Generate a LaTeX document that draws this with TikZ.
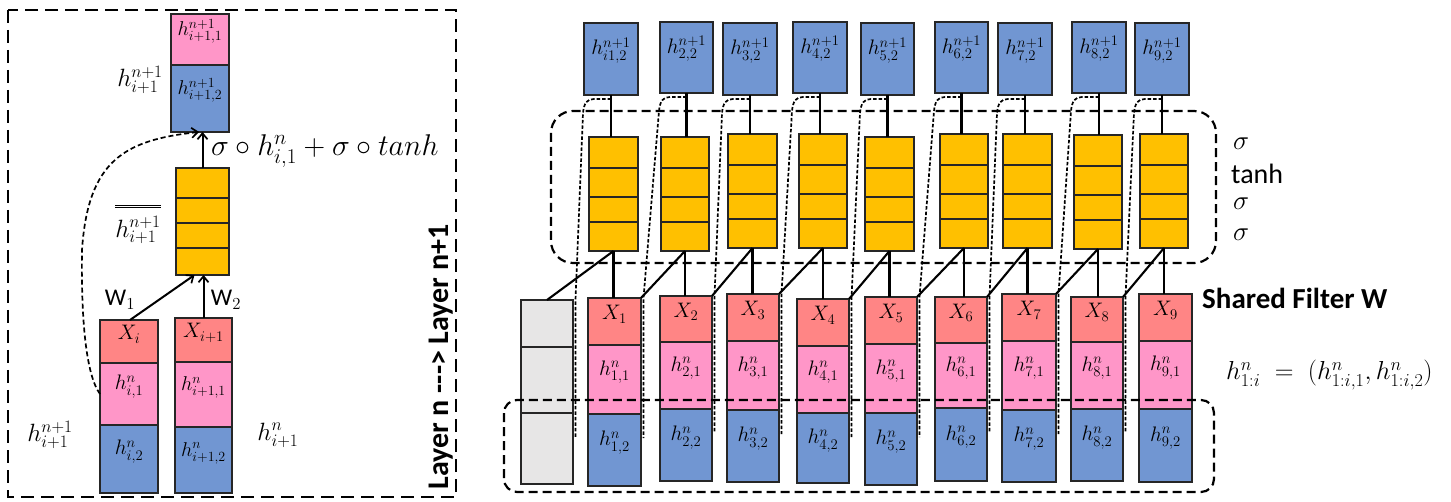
\RequirePackage{fix-cm}
\documentclass[tikz,border=0pt]{standalone}
\usepackage{fontspec}
\setmainfont{Carlito}
\usetikzlibrary{arrows.meta,calc,fit}
\definecolor{bluec}{HTML}{7196D2}
\definecolor{pinkc}{HTML}{FF96C8}
\definecolor{redc}{HTML}{FF8585}
\definecolor{yelc}{HTML}{FFC000}
\definecolor{grayc}{HTML}{E7E6E6}
\begin{document}
\begin{tikzpicture}[x=1pt,y=-1pt,
  cell/.style={draw=black!85, line width=2.6pt, inner sep=0pt, outer sep=0pt, font=\fontsize{21}{25}\selectfont},
  conn/.style={line width=2.1pt},
  arr/.style={line width=2pt,-{Straight Barb[length=6pt,width=10pt,line width=1.7pt]}},
  dconn/.style={line width=1.7pt, dash pattern=on 3.5pt off 2pt},
  grp/.style={line width=2.2pt, dash pattern=on 9pt off 5pt},
  bigdash/.style={line width=2.4pt, dash pattern=on 13pt off 7pt},
  mlab/.style={inner sep=0pt, font=\fontsize{25}{30}\selectfont},
  slab/.style={inner sep=0pt, font=\fontsize{27}{30}\selectfont},
]
\useasboundingbox (0,0) rectangle (1451,502);

% ---------------- left panel ----------------
\draw[bigdash] (8,10) rectangle (456,497);
\node[cell, font=\fontsize{20}{24}\selectfont, fill=pinkc, fit={(171,14)(229,65)}] (lt1) {$h^{n+1}_{i+1,1}$};
\node[cell, font=\fontsize{20}{24}\selectfont, fill=bluec, fit={(171,65)(229,132)}] (lt2) {$h^{n+1}_{i+1,2}$};
\node[cell, fill=yelc, fit={(176,168)(229,198)}] (ly1) {};
\node[cell, fill=yelc, fit={(176,198)(229,223)}] (ly2) {};
\node[cell, fill=yelc, fit={(176,223)(229,248)}] (ly3) {};
\node[cell, fill=yelc, fit={(176,248)(229,275)}] (ly4) {};
\node[cell, fill=redc, fit={(100,320)(158,363)}] (lr1) {$X_i$};
\node[cell, fill=pinkc, fit={(100,363)(158,425)}] (lp1) {$h^n_{i,1}$};
\node[cell, fill=bluec, fit={(100,425)(158,493)}] (lb1) {$h^n_{i,2}$};
\node[cell, fill=redc, fit={(175,318)(232,362)}] (lr2) {$X_{i+1}$};
\node[cell, font=\fontsize{20}{24}\selectfont, fill=pinkc, fit={(175,362)(232,427)}] (lp2) {$h^n_{i+1,1}$};
\node[cell, font=\fontsize{20}{24}\selectfont, fill=bluec, fit={(175,427)(232,493)}] (lb2) {$h^n_{i+1,2}$};

\draw[arr] ($(lr1.north)+(1,0)$) -- ($(ly4.south)+(-8,0)$);
\draw[arr] (lr2.north) -- (lr2.north |- ly4.south);
\draw[arr] (ly1.north) -- (ly1.north |- lt2.south);
\draw[dconn, line width=1.7pt, dash pattern=on 5pt off 3pt, -{Straight Barb[length=6pt,width=10pt,line width=1.7pt]}]
  (lp1.west) .. controls (86,375) and (81,320) .. (82,250)
  .. controls (88,160) and (125,140) .. ($(lt2.south)+(-1,0)$);

\node[mlab] (lhtop) at (140,80) {$h^{n+1}_{i+1}$};
\node[inner sep=0pt, anchor=west, font=\fontsize{30}{34}\selectfont] (leq) at (211,151) {$\sigma\circ h^n_{i,1}+\sigma\circ tanh$};
\node[mlab] (lhbar) at (138,224) {$\overline{\overline{\rule{0pt}{1.15em}h^{n+1}_{i+1}}}$};
\node[inner sep=0pt, font=\fontsize{24}{28}\selectfont] (w1) at (120,300) {W$_1$};
\node[inner sep=0pt, font=\fontsize{24}{28}\selectfont] (w2) at (226,300) {W$_2$};
\node[mlab] (lhl) at (50,435) {$h^{n+1}_{i+1}$};
\node[mlab] (lhr) at (278,435) {$h^{n}_{i+1}$};
\node[rotate=90, inner sep=0pt, font=\bfseries\fontsize{30}{36}\selectfont] (layer) at (441,357) {Layer n -{}-{}-{}> Layer n+1};

% ---------------- right panel ----------------
\foreach \k/\lab/\xa/\xb/\ya/\yb in {1/{i1}/584/638/23/95, 2/2/660/713/22/93, 3/3/723/777/23/95, 4/4/793/847/22/93, 5/5/861/914/23/95, 6/6/935/988/22/93, 7/7/998/1052/23/95, 8/8/1072/1126/22/93, 9/9/1135/1189/23/95}{
  \node[cell, fill=bluec, fit={(\xa,\ya)(\xb,\yb)}] (t\k) {$h^{n+1}_{\lab,2}$};
}
\foreach \k/\xa/\xb/\ya in {1/589/638/137, 2/661/709/137, 3/728/777/134, 4/799/847/134, 5/865/914/137, 6/940/988/134, 7/1003/1052/134, 8/1074/1122/135, 9/1140/1188/134}{
  \node[cell, fill=yelc, fit={(\xa,\ya)(\xb,\ya+31)}] (yA\k) {};
  \node[cell, fill=yelc, fit={(\xa,\ya+31)(\xb,\ya+60)}] (yB\k) {};
  \node[cell, fill=yelc, fit={(\xa,\ya+60)(\xb,\ya+85)}] (yC\k) {};
  \node[cell, fill=yelc, fit={(\xa,\ya+85)(\xb,\ya+114)}] (yD\k) {};
}
\node[cell, fill=grayc, fit={(521,300)(573,347)}] (r0) {};
\node[cell, fill=grayc, fit={(521,347)(573,413)}] (p0) {};
\node[cell, fill=grayc, fit={(521,413)(573,484)}] (b0) {};
\foreach \k/\xa/\xb/\ya/\yb/\yc/\yd in {1/588/641/298/345/414/486, 2/660/712/296/342/409/481, 3/727/779/294/341/410/482, 4/797/849/299/346/413/483, 5/865/917/297/344/413/485, 6/935/987/297/343/408/481, 7/1002/1056/294/341/410/482, 8/1071/1123/297/342/409/481, 9/1139/1192/294/341/409/482}{
  \node[cell, fill=redc, fit={(\xa,\ya)(\xb,\yb)}] (r\k) {$X_{\k}$};
  \node[cell, fill=pinkc, fit={(\xa,\yb)(\xb,\yc)}] (p\k) {$h^{n}_{\k,1}$};
  \node[cell, fill=bluec, fit={(\xa,\yc)(\xb,\yd)}] (b\k) {$h^{n}_{\k,2}$};
}
\foreach \k in {1,...,9}{
  \pgfmathtruncatemacro{\prev}{\k-1}
  \draw[conn] (t\k.south) -- (t\k.south |- yA\k.north);
  \draw[conn] (yD\k.south) -- (yD\k.south |- r\k.north);
  \ifnum\k=1
    \draw[conn] (yD\k.south) -- (r0.north);
  \else
    \draw[conn] (yD\k.south) -- (r\prev.north east);
  \fi
  \draw[dconn] ($(t\k.south)+(0,4)$) -- ($(t\k.south west)+(10,4)$)
    .. controls ($(t\k.south west)+(3,4)$) and ($(t\k.south west)+(0,8)$) .. ($(t\k.south west)+(-1,18)$)
    -- ($(r\prev.north east)+(2.5,0)$) -- ($(b\prev.north east)+(2.5,24)$);
}
\draw[grp, rounded corners=22pt] (551,111) rectangle (1216,263);
\draw[grp, rounded corners=13pt] (504,400) rectangle (1214,492);

\node[slab, anchor=west] (s1) at (1233,144) {$\sigma$};
\node[inner sep=0pt, anchor=west, font=\fontsize{28}{32}\selectfont] (tanh) at (1231,174) {tanh};
\node[slab, anchor=west] (s2) at (1233,204) {$\sigma$};
\node[slab, anchor=west] (s3) at (1233,235) {$\sigma$};
\node[inner sep=0pt, anchor=west, font=\bfseries\fontsize{29}{34}\selectfont] (shared) at (1202,298) {Shared Filter W};
\node[inner sep=0pt, anchor=west, font=\fontsize{26}{30}\selectfont] (heq) at (1226,375) {$h^n_{1:i}\;=\;(h^n_{1:i,1},h^n_{1:i,2})$};
\end{tikzpicture}
\end{document}
